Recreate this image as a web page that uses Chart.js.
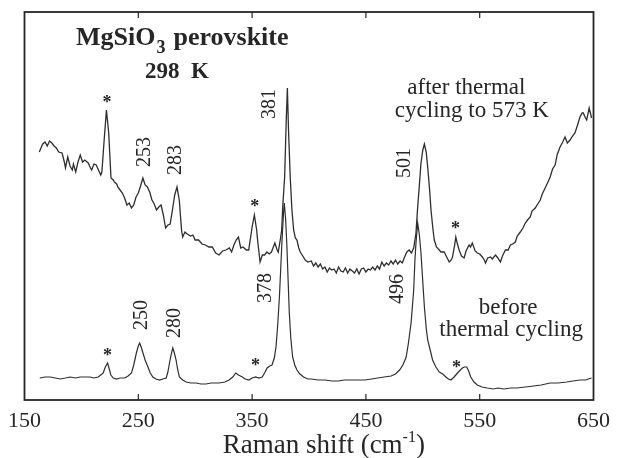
<!DOCTYPE html>
<html>
<head>
<meta charset="utf-8">
<script src="https://cdn.jsdelivr.net/npm/chart.js@4.4.1/dist/chart.umd.min.js"></script>
<style>
  html, body { margin: 0; padding: 0; background: #fff; }
  #wrap { width: 618px; height: 458px; }
</style>
</head>
<body>
<div id="wrap"><canvas id="chartRaman" width="618" height="458"></canvas></div>
<script>
// Raman shift (cm-1) and intensity (arb. units)
const afterX = [163,166,168,170,172,174,176,178,180,183,185,186,188,190,192,193,195,197,199,201,203,206,208,209,211,213,215,217,218,220,222,224,226,228,229,231,232,234,236,238,240,242,244,246,248,250,252,254,256,258,260,262,264,266,268,270,272,274,276,278,280,282,284,286,288,289,291,293,296,298,300,303,306,309,312,315,318,321,324,327,330,332,334,336,338,340,342,345,347,349,350,352,354,355,357,359,361,363,365,367,369,370,372,373,375,376,377,378.6,380,381,382,383.5,385,386.5,388,389.4,391,392.3,394,396.7,399,402,404,406,408,410,412,414,416,418,420,422,424,426,428,430,432,434,436,438,440,442,444,446,448,450,452,454,456,458,460,462,464,466,468,470,472,474,476,478,480,482,484,486,488,490,492,494,495.5,497,498.4,500,501.4,503,504.3,506,507.2,509,510.1,512,514.5,516,518.8,521,523.2,525,526.1,528,529,530,531.9,534,536.3,538,540.7,542,543.5,546,547.9,550,552.3,554,555.1,557,559.5,561,563.9,566,568.2,570,572.6,575,577,579,581.3,583,585.7,588,590.1,592,594.4,596,598.8,601,603.2,605,607.5,610,611.9,614,616.3,618,620.6,623,625,627,629.4,631,633.7,636,638.1,640,641,643,644,646.2,648.3];
const afterY = [248,256,258,254,259,257,254,252,248,247,238,232,243,234,230,236,228,238,245,238,240,237,232,230,236,235,230,225,228,260,290,267,222,220,218,216,213,210,207,202,195,197,192,195,203,207,214,222,215,213,208,200,196,190,193,195,185,172,175,176,190,205,213,200,170,163,168,166,164,165,160,160,156,155,153,153,147,145,149,150,152,148,155,160,163,152,153,150,150,165,173,185,170,158,138,145,145,148,146,148,154,157,150,148,162,170,195,223,280,312,270,223,190,170,162,160,152,148,145,140,138,139,134,137,133,136,131,133,128,132,130,131,127,133,129,128,132,127,131,129,127,131,126,131,132,128,131,130,133,130,134,131,138,134,137,135,139,136,140,136,139,137,143,148,150,147,152,167,193,215,237,250,256,248,233,210,190,170,160,153,150,148,148,143,138,140,143,155,163,158,150,144,142,149,155,153,157,149,147,146,143,140,137,142,143,141,145,142,138,144,150,150,155,156,158,164,168,172,177,180,183,189,192,196,200,206,212,218,223,231,235,245,253,258,263,257,260,263,267,275,283,287,287,282,280,292,282];

const beforeX = [163.4,168,172.7,177,181.4,186,190.1,195,198.9,203,207.6,211,214.8,217,219.2,221,223,224.5,225.9,228,230.9,234,238.1,241,244,246,248.3,250,251.2,252.5,254.1,256,258.5,260.5,262.8,265.5,268.7,271.5,274.5,276,277.4,279,280.3,281.7,283.2,284.5,286.1,289,292,296,300.7,305,309.4,314,318.2,321,326,329.8,333,335.6,338,341.4,344,347.2,350,353.1,356,358.8,361,363.2,365.5,367.5,369.5,371,372.5,374,375.3,376.3,377.5,378.3,379.5,380.6,381.7,382.7,384,385.6,387.5,389.4,392,395.2,399,402.4,408,414.1,420,425.7,431,437.3,443,449,455,460.6,466,472.2,476,479.6,482.5,485.4,487.5,489.7,492,493.1,494,495.5,497,498.4,500,501.4,503,504.3,506.5,508.6,511.5,514.5,517.5,520.3,522.5,524.7,527.5,530.5,533,534.8,536.5,538.6,540.3,542.1,545,547.9,552,556.6,562,566,571.2,577,582.8,590,597.4,604,611.9,619,626.4,632,638.1,643,648.3];
const beforeY = [22,23,23,22,21,22,23,22,23,23,23,22,23,25,27,33,37,31,25,22,21,22,22,24,27,35,47,54,57,53,47,40,33,27,23,21,20,21,22,28,37,46,52,47,40,31,23,20,18,17,17,16,16,17,17,17,18,20,23,27,25,23,21,20,22,23,22,23,27,32,34,35,42,53,75,103,135,160,185,197,180,153,118,87,62,43,35,30,26,23,21,21,20,20,19,19,20,20,20,20,21,22,23,24,26,30,35,43,58,77,110,140,157,177,165,147,118,93,72,60,50,40,33,28,26,23,21,20,23,27,30,32,33,33,29,23,18,15,13,12,11,12,11,12,12,13,14,15,17,17,18,19,20,20,22];

const xTicks = [150, 250, 350, 450, 550, 650];
const innerTicks = [250, 350, 450, 550];

// peak labels, rotated (x in cm-1, y in arb. units)
const peakLabels = ['253', '283', '381', '501', '378', '496', '250', '280'];
const peakLabelX = [255.6, 283.2, 365.3, 484, 361.8, 478.1, 252.7, 282.4];
const peakLabelY = [248, 240, 296, 237, 112, 111, 85, 77];

// asterisks for the non-perovskite lines
const starX = [222.4, 352.4, 528.7, 223, 353, 529.6];
const starY = [300, 196, 174, 47, 37, 35];

const serif = '"Liberation Serif", "Times New Roman", serif';
const ink = '#262626';

const annotations = {
    id: 'annotations',
    afterDraw(chart) {
        const { ctx, chartArea: a, scales: { x, y } } = chart;
        ctx.save();

        // frame + inward ticks
        ctx.strokeStyle = ink;
        ctx.lineWidth = 1.8;
        ctx.strokeRect(a.left, a.top, a.right - a.left, a.bottom - a.top);
        ctx.lineWidth = 1.2;
        innerTicks.forEach(t => {
            const px = x.getPixelForValue(t);
            ctx.beginPath();
            ctx.moveTo(px, a.bottom); ctx.lineTo(px, a.bottom - 6);
            ctx.moveTo(px, a.top); ctx.lineTo(px, a.top + 6);
            ctx.stroke();
        });

        ctx.fillStyle = ink;

        // rotated peak positions
        ctx.font = '20px ' + serif;
        ctx.textAlign = 'center';
        ctx.textBaseline = 'middle';
        peakLabels.forEach((s, i) => {
            ctx.save();
            ctx.translate(x.getPixelForValue(peakLabelX[i]), y.getPixelForValue(peakLabelY[i]));
            ctx.rotate(-Math.PI / 2);
            ctx.fillText(s, 0, 0);
            ctx.restore();
        });

        // asterisks
        ctx.font = 'bold 18px ' + serif;
        starX.forEach((sx, i) => {
            ctx.fillText('*', x.getPixelForValue(sx), y.getPixelForValue(starY[i]) + 3);
        });

        // curve captions
        ctx.font = '23px ' + serif;
        ctx.fillText('after thermal', x.getPixelForValue(538.3), y.getPixelForValue(312));
        ctx.fillText('cycling to 573 K', x.getPixelForValue(543.1), y.getPixelForValue(289));
        ctx.fillText('before', x.getPixelForValue(575), y.getPixelForValue(92));
        ctx.fillText('thermal cycling', x.getPixelForValue(577.6), y.getPixelForValue(70));

        // sample title
        ctx.font = 'bold 26px ' + serif;
        ctx.textAlign = 'left';
        ctx.textBaseline = 'alphabetic';
        let tx = 76, ty = 45;
        ctx.fillText('MgSiO', tx, ty);
        tx += ctx.measureText('MgSiO').width;
        ctx.font = 'bold 18px ' + serif;
        ctx.fillText('3', tx + 1, ty + 8);
        tx += ctx.measureText('3').width + 9;
        ctx.font = 'bold 26px ' + serif;
        ctx.fillText('perovskite', tx, ty);
        ctx.font = 'bold 23px ' + serif;
        ctx.textAlign = 'center';
        ctx.fillText('298  K', 177, 78);

        // axis title with superscript
        const cy = 453;
        const p1 = 'Raman shift (cm', p3 = ')';
        ctx.font = '16px ' + serif;
        const w2 = ctx.measureText('-1').width;
        ctx.font = '27px ' + serif;
        const w1 = ctx.measureText(p1).width, w3 = ctx.measureText(p3).width;
        let sx = x.getPixelForValue(413) - (w1 + w2 + w3) / 2;
        ctx.textAlign = 'left';
        ctx.fillText(p1, sx, cy);
        sx += w1;
        ctx.font = '16px ' + serif;
        ctx.fillText('-1', sx, cy - 11);
        sx += w2;
        ctx.font = '27px ' + serif;
        ctx.fillText(p3, sx, cy);

        ctx.restore();
    }
};

new Chart(document.getElementById('chartRaman'), {
    type: 'line',
    data: {
        datasets: [
            { label: 'after thermal cycling to 573 K', data: afterX.map((v, i) => ({ x: v, y: afterY[i] })), borderColor: '#2e2e2e', borderWidth: 1.3, pointRadius: 0, tension: 0, fill: false },
            { label: 'before thermal cycling', data: beforeX.map((v, i) => ({ x: v, y: beforeY[i] })), borderColor: '#2e2e2e', borderWidth: 1.2, pointRadius: 0, tension: 0, fill: false }
        ]
    },
    options: {
        responsive: false,
        animation: false,
        layout: { padding: { left: 24, right: 21, top: 12, bottom: 0 } },
        plugins: { legend: { display: false }, tooltip: { enabled: false } },
        scales: {
            x: {
                type: 'linear', min: 150, max: 650,
                afterBuildTicks: s => { s.ticks = xTicks.map(v => ({ value: v })); },
                afterFit: s => { s.height = 58; },
                grid: { display: false, drawTicks: false },
                border: { display: false },
                ticks: { color: ink, padding: 8, maxRotation: 0, font: { family: serif, size: 22 } }
            },
            y: { display: false, min: 0, max: 388 }
        }
    },
    plugins: [annotations]
});
</script>
</body>
</html>
